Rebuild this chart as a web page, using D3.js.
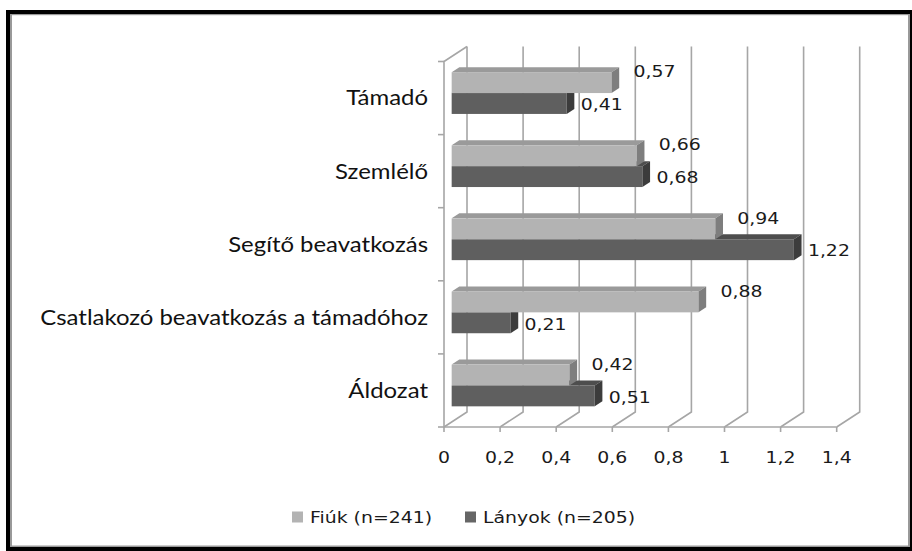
<!DOCTYPE html>
<html>
<head>
<meta charset="utf-8">
<script src="https://cdn.jsdelivr.net/npm/d3@7"></script>
<style>
  body { margin: 0; background: #fff; }
</style>
</head>
<body>
<script>
// data
const categories = ['Támadó', 'Szemlélő', 'Segítő beavatkozás', 'Csatlakozó beavatkozás a támadóhoz', 'Áldozat'];
const seriesNames = ['Fiúk (n=241)', 'Lányok (n=205)'];
const fiuk = [0.57, 0.66, 0.94, 0.88, 0.42];
const lanyok = [0.41, 0.68, 1.22, 0.21, 0.51];
const xTicks = [0, 0.2, 0.4, 0.6, 0.8, 1, 1.2, 1.4];

const width = 912, height = 551;

// depth of the fake 3d box
const DX = 23, DY = -15;
const ox = DX / 3, oy = DY / 3;

const hu = d3.formatLocale({ decimal: ',', thousands: ' ', grouping: [3], currency: ['', ''] });
const fmt = hu.format('.2~f');

const svg = d3.select('body').append('svg')
  .attr('width', width)
  .attr('height', height);

// frame
svg.append('rect').attr('x', 6).attr('y', 10).attr('width', 906).attr('height', 541).attr('fill', '#000');
svg.append('rect').attr('x', 10).attr('y', 14).attr('width', 900).attr('height', 533).attr('fill', '#fff');
svg.append('rect').attr('x', 10).attr('y', 14).attr('width', 2).attr('height', 533).attr('fill', '#999');
svg.append('rect').attr('x', 10).attr('y', 14).attr('width', 900).attr('height', 1.2).attr('fill', '#999');
svg.append('rect').attr('x', 908).attr('y', 14).attr('width', 2).attr('height', 533).attr('fill', '#999');
svg.append('rect').attr('x', 10).attr('y', 545.5).attr('width', 900).attr('height', 1.5).attr('fill', '#999');

const x = d3.scaleLinear().domain([0, 1.4]).range([444, 836.7]);
const y0 = d3.scaleBand().domain(categories).range([61.5, 427]);
const y1 = d3.scaleBand().domain(seriesNames).range([0, y0.bandwidth()]).paddingOuter(0.75);

const plotTop = y0.range()[0], plotBottom = y0.range()[1];
const gridColor = '#a6a6a6';

const grid = svg.append('g').attr('stroke', gridColor).attr('stroke-width', 1.6).attr('fill', 'none');

// back wall gridlines + floor diagonals
xTicks.forEach(t => {
  grid.append('path').attr('d', d3.line()([
    [x(t), plotBottom], [x(t) + DX, plotBottom + DY], [x(t) + DX, plotTop + DY]
  ]));
  // tick mark below axis
  grid.append('line')
    .attr('x1', x(t)).attr('x2', x(t))
    .attr('y1', plotBottom).attr('y2', plotBottom + 5);
});

// left wall and axis lines
grid.append('path').attr('d', d3.line()([
  [x(0) + DX, plotTop + DY], [x(0), plotTop], [x(0), plotBottom], [x(1.4), plotBottom]
]));
d3.range(categories.length + 1).forEach(i => {
  const yy = plotTop + i * y0.step();
  grid.append('line').attr('x1', x(0) - 6).attr('x2', x(0)).attr('y1', yy).attr('y2', yy);
});

// axis labels
const textFont = 'DejaVu Sans, Verdana, sans-serif';
function stretched(g, tx, ty, str, anchor) {
  return g.append('text')
    .attr('transform', `translate(${tx},${ty}) scale(1.18,1)`)
    .attr('text-anchor', anchor)
    .attr('font-family', textFont)
    .attr('font-size', 16)
    .attr('fill', '#1a1a1a')
    .text(str);
}

const labels = svg.append('g');
xTicks.forEach(t => stretched(labels, x(t), 463, fmt(t), 'middle'));

labels.selectAll('.cat')
  .data(categories)
  .join('text')
  .attr('class', 'cat')
  .attr('transform', d => `translate(428,${y0(d) + y0.bandwidth() / 2}) scale(1.14,1)`)
  .attr('dy', '0.35em')
  .attr('text-anchor', 'end')
  .attr('font-family', 'Lato, Carlito, Calibri, sans-serif')
  .attr('font-size', 21)
  .attr('fill', '#111')
  .text(d => d);

// bars
const styles = {
  'Fiúk (n=241)': { front: '#b3b3b3', top: '#9a9a9a', side: '#7e7e7e', legend: '#b3b3b3' },
  'Lányok (n=205)': { front: '#5f5f5f', top: '#4e4e4e', side: '#3c3c3c', legend: '#666666' }
};

const rows = categories.map((c, i) => ({ cat: c, values: [fiuk[i], lanyok[i]] }));
const bars = svg.append('g');

// lower series first so the upper one covers its top face
[1, 0].forEach(s => {
  const name = seriesNames[s];
  const st = styles[name];
  rows.forEach(r => {
    const v = r.values[s];
    const yb = y0(r.cat) + y1(name);
    const h = y1.bandwidth();
    const xa = x(0) + ox, xb = x(v) + ox;
    const g = bars.append('g');
    g.append('path').attr('fill', st.top).attr('d', d3.line()([
      [xa, yb + oy], [xb, yb + oy], [xb + ox, yb + 2 * oy], [xa + ox, yb + 2 * oy]
    ]));
    g.append('rect').attr('fill', st.front)
      .attr('x', xa).attr('y', yb + oy)
      .attr('width', xb - xa).attr('height', h);
    g.append('path').attr('fill', st.side).attr('d', d3.line()([
      [xb, yb + oy], [xb + ox, yb + 2 * oy], [xb + ox, yb + h + 2 * oy], [xb, yb + h + oy]
    ]));
  });
});

// value labels
const valueLabels = svg.append('g');
rows.forEach(r => {
  r.values.forEach((v, s) => {
    const name = seriesNames[s];
    const yc = y0(r.cat) + y1(name) + y1.bandwidth() / 2 + oy;
    const lx = x(v) + ox + (s === 0 ? 22 : 14);
    const ly = yc + (s === 0 ? -11 : 1);
    stretched(valueLabels, lx, ly, fmt(v), 'start').attr('dy', '0.36em');
  });
});

// legend
const legend = svg.append('g');
const legendX = [292, 465];
seriesNames.forEach((name, i) => {
  legend.append('rect')
    .attr('x', legendX[i]).attr('y', 511.5)
    .attr('width', 11).attr('height', 11)
    .attr('fill', styles[name].legend);
  stretched(legend, legendX[i] + 18, 522.5, name, 'start');
});
</script>
</body>
</html>
